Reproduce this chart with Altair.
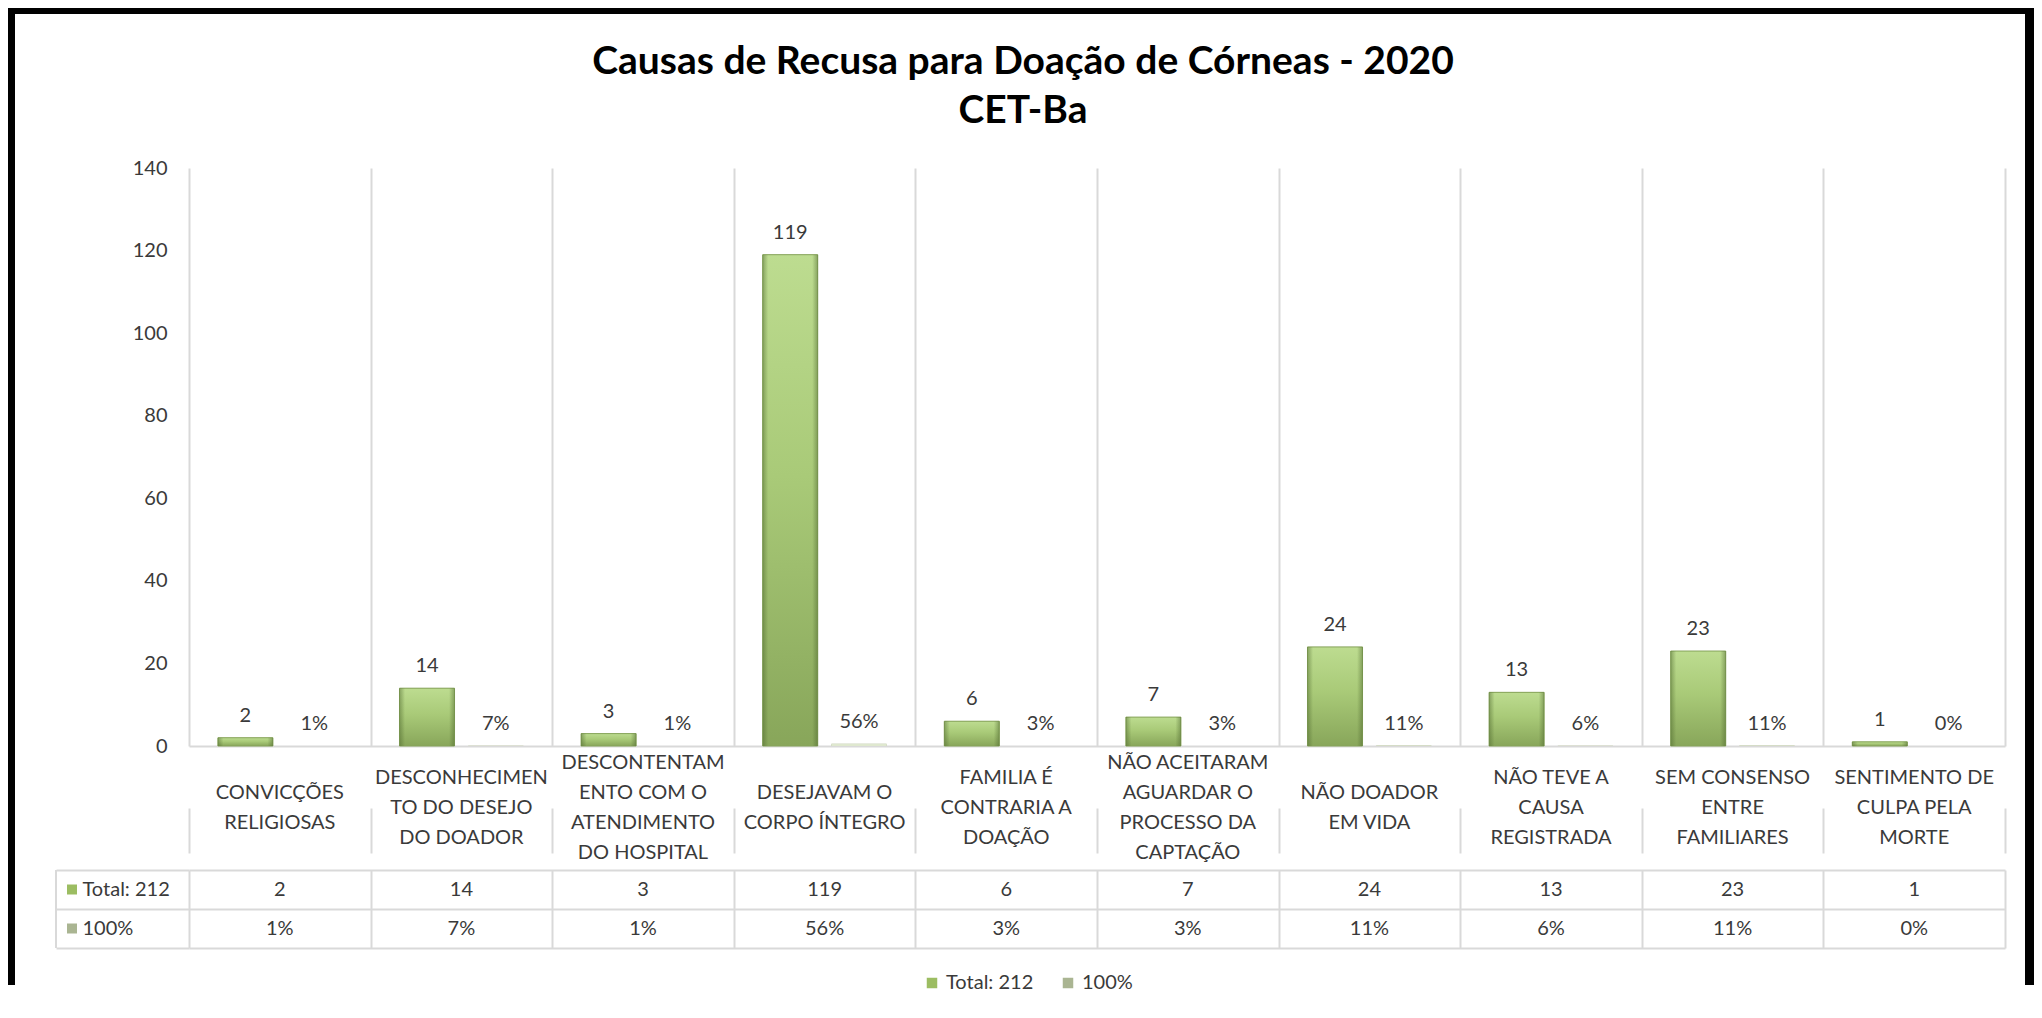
import altair as alt
import pandas as pd

# ---------------- data ----------------
title_lines = ["Causas de Recusa para Doação de Córneas - 2020", "CET-Ba"]
categories = [
    "CONVICÇÕES RELIGIOSAS",
    "DESCONHECIMENTO DO DESEJO DO DOADOR",
    "DESCONTENTAMENTO COM O ATENDIMENTO DO HOSPITAL",
    "DESEJAVAM O CORPO ÍNTEGRO",
    "FAMILIA É CONTRARIA A DOAÇÃO",
    "NÃO ACEITARAM AGUARDAR O PROCESSO DA CAPTAÇÃO",
    "NÃO DOADOR EM VIDA",
    "NÃO TEVE A CAUSA REGISTRADA",
    "SEM CONSENSO ENTRE FAMILIARES",
    "SENTIMENTO DE CULPA PELA MORTE",
]
category_lines = [
    "CONVICÇÕES\nRELIGIOSAS",
    "DESCONHECIMEN\nTO DO DESEJO\nDO DOADOR",
    "DESCONTENTAM\nENTO COM O\nATENDIMENTO\nDO HOSPITAL",
    "DESEJAVAM O\nCORPO ÍNTEGRO",
    "FAMILIA É\nCONTRARIA A\nDOAÇÃO",
    "NÃO ACEITARAM\nAGUARDAR O\nPROCESSO DA\nCAPTAÇÃO",
    "NÃO DOADOR\nEM VIDA",
    "NÃO TEVE A\nCAUSA\nREGISTRADA",
    "SEM CONSENSO\nENTRE\nFAMILIARES",
    "SENTIMENTO DE\nCULPA PELA\nMORTE",
]
series = ["Total: 212", "100%"]
totals = [2, 14, 3, 119, 6, 7, 24, 13, 23, 1]
pct_values = [0.01, 0.07, 0.01, 0.56, 0.03, 0.03, 0.11, 0.06, 0.11, 0.00]
pct_labels = ["1%", "7%", "1%", "56%", "3%", "3%", "11%", "6%", "11%", "0%"]
y_ticks = [0, 20, 40, 60, 80, 100, 120, 140]

# ---------------- style ----------------
FONT = "Lato"
GRID = "#d9d9d9"
TXT = "#3a3a3a"
W = 1816
H_PLOT = 578
H_LAB = 124
H_TBL = 78
HEADER_W = 133
LINE_H = 30

bars_df = pd.DataFrame({
    "cat": categories * 2,
    "series": [series[0]] * len(categories) + [series[1]] * len(categories),
    "value": totals + pct_values,
    "label": [str(t) for t in totals] + pct_labels,
})
lab_df = pd.DataFrame({
    "cat": categories,
    "lines": category_lines,
    "nlines": [s.count("\n") + 1 for s in category_lines],
})

x_scale = alt.Scale(domain=categories, paddingInner=0, paddingOuter=0)


def x_enc(domain=False):
    return alt.X(
        "cat:N", sort=categories, scale=x_scale,
        axis=alt.Axis(title=None, labels=False, ticks=False, domain=domain,
                      domainColor=GRID, domainWidth=2, grid=True,
                      gridColor=GRID, gridWidth=2, tickBand="extent"),
    )


xoff = alt.XOffset("series:N", sort=series,
                   scale=alt.Scale(domain=series, paddingInner=0.2, paddingOuter=0.42))
y_enc = alt.Y("value:Q", scale=alt.Scale(domain=[0, 140], nice=False),
              axis=alt.Axis(title=None, values=y_ticks, domain=False, ticks=False,
                            grid=False, labelPadding=22, labelFontSize=20,
                            labelFont=FONT, labelColor=TXT))
color_enc = alt.Color(
    "series:N", sort=series,
    scale=alt.Scale(domain=series, range=["#9cbd62", "#aab592"]),
    legend=alt.Legend(title=None, orient="none", legendX=733, legendY=805,
                      direction="horizontal",
                      symbolType="square", symbolSize=110, symbolStrokeWidth=0,
                      labelFont=FONT, labelFontSize=20, labelColor=TXT,
                      columnPadding=24),
)

base = alt.Chart(bars_df).encode(x=x_enc(domain=True), xOffset=xoff, y=y_enc)

bars = base.mark_bar().encode(color=color_enc)

green_grad = alt.Gradient(
    gradient="linear", x1=0, x2=0, y1=0, y2=1,
    stops=[alt.GradientStop(color="#bddc90", offset=0),
           alt.GradientStop(color="#a9ca78", offset=0.45),
           alt.GradientStop(color="#88a65a", offset=1)],
)
edge_grad = alt.Gradient(
    gradient="linear", x1=0, x2=1, y1=0, y2=0,
    stops=[alt.GradientStop(color="rgba(70,95,40,0.45)", offset=0),
           alt.GradientStop(color="rgba(70,95,40,0)", offset=0.1),
           alt.GradientStop(color="rgba(70,95,40,0)", offset=0.9),
           alt.GradientStop(color="rgba(70,95,40,0.45)", offset=1)],
)
tot_bars = base.transform_filter(alt.datum.series == series[0]).mark_bar(
    color=green_grad, stroke="#86a35a", strokeWidth=1)
tot_edges = base.transform_filter(alt.datum.series == series[0]).mark_bar(color=edge_grad)
pct_bars = base.transform_filter(alt.datum.series == series[1]).mark_bar(
    color="#dfe8cf")

labels = base.mark_text(dy=-22, fontSize=20, font=FONT, color=TXT).encode(text="label:N")

panel_a = alt.layer(bars, tot_bars, tot_edges, pct_bars, labels).properties(
    width=W, height=H_PLOT,
    title=alt.TitleParams(text=title_lines, fontSize=39, font=FONT, fontWeight="bold",
                          color="#000000", anchor="middle", lineHeight=49, offset=27,
                          dx=-74),
)

panel_b = alt.Chart(lab_df).mark_text(
    fontSize=20, font=FONT, color=TXT, lineBreak="\n", lineHeight=LINE_H,
    baseline="middle", align="center",
).encode(
    x=x_enc(),
    y=alt.Y("nlines:Q", axis=None,
            scale=alt.Scale(domain=[1, 4],
                            range=[H_LAB / 2, H_LAB / 2 - 3 * LINE_H / 2])),
    text="lines:N",
).properties(width=W, height=H_LAB)

tbl_df = pd.DataFrame({
    "cat": categories * 2,
    "series": [series[0]] * len(categories) + [series[1]] * len(categories),
    "label": [str(t) for t in totals] + pct_labels,
})
row_y = alt.Y(
    "series:N", sort=series,
    scale=alt.Scale(domain=series, paddingInner=0, paddingOuter=0),
    axis=alt.Axis(title=None, grid=True, gridColor=GRID, gridWidth=2,
                  tickBand="extent", ticks=True, tickSize=HEADER_W, tickColor=GRID,
                  tickWidth=2, domain=False, labelAlign="left", labelPadding=-26,
                  labelFontSize=20, labelFont=FONT, labelColor=TXT),
)
tbl_base = alt.Chart(tbl_df).encode(x=x_enc(), y=row_y)
tbl_text = tbl_base.mark_text(fontSize=20, font=FONT, color=TXT).encode(text="label:N")
tbl_keys = tbl_base.transform_filter(alt.datum.cat == categories[0]).mark_square(
    size=100, opacity=1).encode(
    x=alt.value(-117),
    color=alt.Color("series:N", sort=series,
                    scale=alt.Scale(domain=series, range=["#9cbd62", "#aab592"]),
                    legend=None),
)
tbl_border = alt.Chart(pd.DataFrame({"cat": categories[:1]})).mark_rule(
    color=GRID, strokeWidth=2).encode(x=alt.value(-HEADER_W))

# outer black frame of the picture (decoration), relative to this panel
frame_src = alt.Chart(pd.DataFrame({"k": [0]}))
frame_top = frame_src.mark_rect(color="#000000").encode(
    x=alt.value(-181), x2=alt.value(1845), y=alt.value(-862), y2=alt.value(-856))
frame_left = frame_src.mark_rect(color="#000000").encode(
    x=alt.value(-181), x2=alt.value(-174), y=alt.value(-862), y2=alt.value(115))
frame_right = frame_src.mark_rect(color="#000000").encode(
    x=alt.value(1836), x2=alt.value(1845), y=alt.value(-862), y2=alt.value(115))

panel_c = alt.layer(tbl_text, tbl_keys, tbl_border,
                    frame_top, frame_left, frame_right).properties(width=W, height=H_TBL)

chart = alt.vconcat(panel_a, panel_b, panel_c, spacing=0, bounds="flush").properties(
    padding={"left": 0, "top": 0, "right": 0, "bottom": 0},
    background="white",
).configure_view(stroke=None)

chart.save("out.html", embed_options={"renderer": "svg", "actions": False})
